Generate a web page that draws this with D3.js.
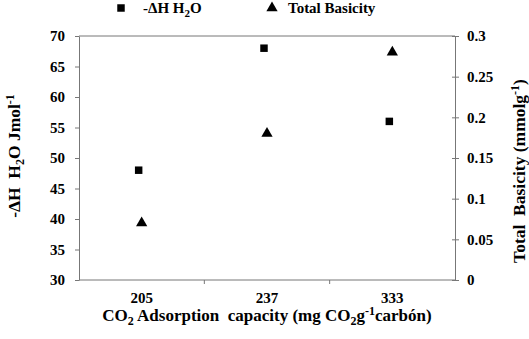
<!DOCTYPE html>
<html>
<head>
<meta charset="utf-8">
<script src="https://cdn.jsdelivr.net/npm/d3@7"></script>
<style>
  body { margin: 0; background: #fff; }
  svg text { font-family: "Times New Roman", "Liberation Serif", "DejaVu Serif", serif !important; font-weight: bold; fill: #000; white-space: pre; }
</style>
</head>
<body>
<div id="chart"></div>
<script>
// data
const capacities = ['205', '237', '333']
const enthalpy = [48, 68, 56]          // -ΔH H2O (J/mol), left axis
const basicity = [0.07, 0.18, 0.28]    // total basicity (mmol/g), right axis
const leftTicks = [30, 35, 40, 45, 50, 55, 60, 65, 70]
const rightTicks = [0, 0.05, 0.1, 0.15, 0.2, 0.25, 0.3]

const W = 529, H = 339
const m = { left: 79, right: 455, top: 36, bottom: 280 }

const svg = d3.select('#chart').append('svg')
  .attr('width', W).attr('height', H)

const x = d3.scaleBand().domain(capacities).range([m.left, m.right])
const yL = d3.scaleLinear().domain([30, 70]).range([m.bottom, m.top])
const yR = d3.scaleLinear().domain([0, 0.3]).range([m.bottom, m.top])

const axisColor = '#777'
const tickFont = '15px'

// frame line on top
svg.append('line').attr('x1', m.left).attr('x2', m.right)
   .attr('y1', m.top).attr('y2', m.top).attr('stroke', axisColor)

// bottom axis
const gx = svg.append('g').attr('transform', `translate(0,${m.bottom})`)
gx.append('line').attr('x1', m.left).attr('x2', m.right).attr('stroke', axisColor)
gx.selectAll('.tk').data(capacities.slice(1)).enter().append('line')
  .attr('x1', d => x(d)).attr('x2', d => x(d))
  .attr('y1', 0).attr('y2', 4).attr('stroke', axisColor)
gx.selectAll('.lb').data(capacities).enter().append('text')
  .attr('x', d => x(d) + x.bandwidth() / 2).attr('y', 23)
  .attr('text-anchor', 'middle').style('font-size', tickFont)
  .text(d => d)

// left axis
const gl = svg.append('g').attr('transform', `translate(${m.left},0)`)
  .call(d3.axisLeft(yL).tickValues(leftTicks).tickSize(4).tickSizeOuter(0).tickPadding(10))
gl.attr('font-family', null)
gl.select('.domain').attr('stroke', axisColor)
gl.selectAll('.tick line').attr('stroke', axisColor)
gl.selectAll('.tick text').style('font-size', tickFont).attr('fill', '#000')

// right axis
const gr = svg.append('g').attr('transform', `translate(${m.right},0)`)
  .call(d3.axisRight(yR).tickValues(rightTicks).tickSize(4).tickSizeOuter(0).tickPadding(8)
    .tickFormat(d => d === 0 ? '0' : String(+d.toFixed(2))))
gr.attr('font-family', null)
gr.select('.domain').attr('stroke', axisColor)
gr.selectAll('.tick line').attr('stroke', axisColor).attr('x1', -3)
gr.selectAll('.tick text').style('font-size', tickFont).attr('fill', '#000')

// squares: -ΔH H2O
svg.selectAll('.sq').data(enthalpy).enter().append('path')
  .attr('d', d3.symbol().type(d3.symbolSquare).size(56))
  .attr('transform', (d, i) => `translate(${x(capacities[i]) + x.bandwidth() / 2 - 3},${yL(d)})`)
  .attr('fill', '#000')

// triangles: total basicity
svg.selectAll('.tri').data(basicity).enter().append('path')
  .attr('d', d3.symbol().type(d3.symbolTriangle).size(55))
  .attr('transform', (d, i) => `translate(${x(capacities[i]) + x.bandwidth() / 2},${yR(d)})`)
  .attr('fill', '#000')

// legend
svg.append('path').attr('d', d3.symbol().type(d3.symbolSquare).size(56))
  .attr('transform', 'translate(121,8)')
const l1 = svg.append('text').attr('x', 143).attr('y', 13).style('font-size', '15px')
l1.append('tspan').text('-ΔH H')
l1.append('tspan').attr('dy', 4).style('font-size', '11px').text('2')
l1.append('tspan').attr('dy', -4).text('O')
svg.append('path').attr('d', d3.symbol().type(d3.symbolTriangle).size(55))
  .attr('transform', 'translate(272,8)')
svg.append('text').attr('x', 288).attr('y', 13).style('font-size', '15px')
  .text('Total Basicity')

// x title
const xt = svg.append('text').attr('x', (m.left + m.right) / 2).attr('y', 321)
  .attr('text-anchor', 'middle').style('font-size', '17px')
xt.append('tspan').text('CO')
xt.append('tspan').attr('dy', 4).style('font-size', '12px').text('2')
xt.append('tspan').attr('dy', -4).text(' Adsorption  capacity (mg CO')
xt.append('tspan').attr('dy', 4).style('font-size', '12px').text('2')
xt.append('tspan').attr('dy', -4).text('g')
xt.append('tspan').attr('dy', -6).style('font-size', '12px').text('-1')
xt.append('tspan').attr('dy', 6).text('carbón)')

// left title
const yt = svg.append('text').attr('transform', `translate(20,156) rotate(-90)`)
  .attr('text-anchor', 'middle').style('font-size', '17.5px')
yt.append('tspan').text('-ΔH  H')
yt.append('tspan').attr('dy', 4).style('font-size', '12px').text('2')
yt.append('tspan').attr('dy', -4).text('O Jmol')
yt.append('tspan').attr('dy', -6).style('font-size', '12px').text('-1')

// right title
const rt = svg.append('text').attr('transform', `translate(525,171) rotate(-90)`)
  .attr('text-anchor', 'middle').style('font-size', '17.5px')
rt.append('tspan').text('Total  Basicity (mmolg')
rt.append('tspan').attr('dy', -6).style('font-size', '12px').text('-1')
rt.append('tspan').attr('dy', 6).text(')')
</script>
</body>
</html>
